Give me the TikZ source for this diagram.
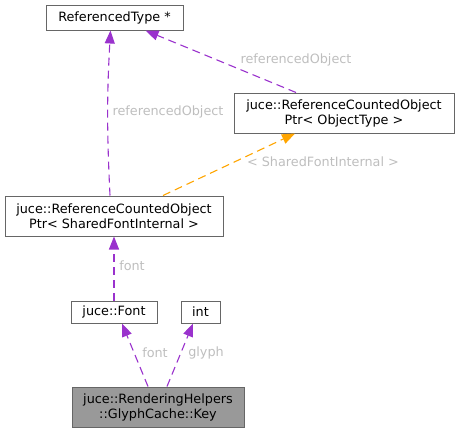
\documentclass[tikz,border=0pt]{standalone}
\usepackage{fontspec}
\setmainfont{DejaVu Sans}
\usetikzlibrary{arrows.meta}
\definecolor{edgepurple}{HTML}{9A32CD}
\definecolor{edgeorange}{HTML}{FFA500}
\definecolor{boxgray}{HTML}{666666}
\definecolor{labelgray}{HTML}{BEBEBE}
\definecolor{keyfill}{HTML}{999999}

\begin{document}
\begin{tikzpicture}[x=1pt,y=-1pt]
\tikzset{cls/.style = {shape=rectangle,draw=boxgray,fill=white,line width=1pt,inner sep=0pt,align=center,font=\fontsize{12.8}{15}\selectfont}}
\tikzset{edge/.style = {->,> = {Triangle[length=13pt,width=10pt]},dash pattern=on 8pt off 5pt,line width=1.1pt,edgepurple}}
\tikzset{tmpl/.style = {edge,edgeorange}}
\tikzset{elabel/.style = {text=labelgray,inner sep=0pt,font=\fontsize{12.8}{15}\selectfont}}
\useasboundingbox (0,0) rectangle (459,432);
% classes
\node[cls,minimum width=137pt,minimum height=25pt] (reftype) at (114.5,17.5) {ReferencedType *};
\node[cls,minimum width=220pt,minimum height=40pt] (objptr) at (344,113) {juce::ReferenceCountedObject\\Ptr< ObjectType >};
\node[cls,minimum width=218pt,minimum height=40pt] (ptrsfi) at (114,216) {juce::ReferenceCountedObject\\Ptr< SharedFontInternal >};
\node[cls,minimum width=86pt,minimum height=22pt] (font) at (114,312) {juce::Font};
\node[cls,minimum width=39pt,minimum height=22pt] (int) at (200.5,312) {int};
\node[cls,fill=keyfill,minimum width=172pt,minimum height=40pt] (key) at (158,407) {juce::RenderingHelpers\\::GlyphCache::Key};

% edges
\draw[edge] ([xshift=-4pt]ptrsfi.north) to[bend left=3] ([xshift=-4pt]reftype.south);
\draw[edge] ([xshift=-48pt]objptr.north) to ([xshift=31pt]reftype.south);
\draw[tmpl] ([xshift=49pt]ptrsfi.north) to ([xshift=-49pt]objptr.south);
\draw[edge] (font.north) to (ptrsfi.south);
\draw[edge] ([xshift=-10pt]key.north) to ([xshift=8pt]font.south);
\draw[edge] ([xshift=9pt]key.north) to ([xshift=-7.5pt]int.south);

% labels
\node[elabel] (lref1) at (168,112) {referencedObject};
\node[elabel] (lref2) at (296,60) {referencedObject};
\node[elabel] (lsfi) at (323,162) {< SharedFontInternal >};
\node[elabel] (lfont1) at (132,266) {font};
\node[elabel] (lfont2) at (155,353) {font};
\node[elabel] (lglyph) at (206,353) {glyph};
\end{tikzpicture}
\end{document}
